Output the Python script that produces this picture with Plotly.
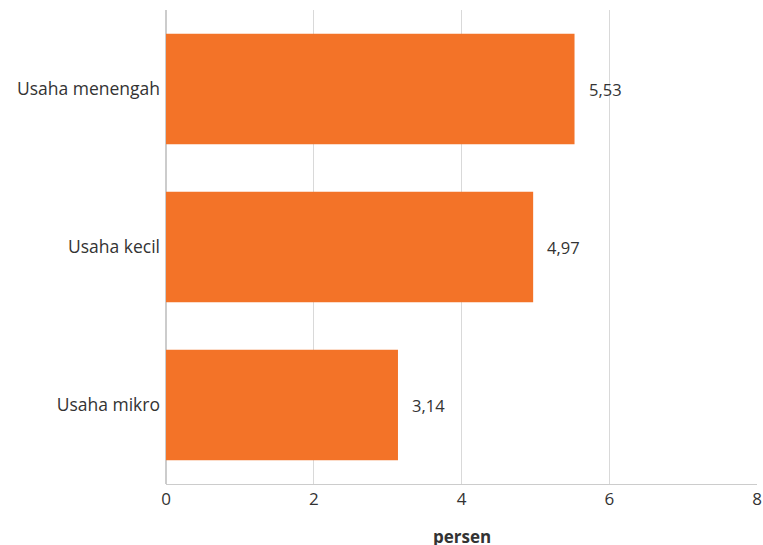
import plotly.graph_objects as go

categories = ["Usaha mikro", "Usaha kecil", "Usaha menengah"]
values = [3.14, 4.97, 5.53]
tick_vals = [0, 2, 4, 6, 8]
x_title = "persen"

BAR_COLOR = "#F37328"
TEXT_COLOR = "#333333"
FONT = "Open Sans"

fig = go.Figure(
    go.Bar(
        y=categories,
        x=values,
        orientation="h",
        marker=dict(color=BAR_COLOR, line=dict(width=0)),
        hoverinfo="skip",
    )
)

# value labels placed just past the end of each bar
for cat, val in zip(categories, values):
    fig.add_annotation(
        x=val,
        y=cat,
        xref="x",
        yref="y",
        text=f"{val:.2f}".replace(".", ","),
        showarrow=False,
        xanchor="left",
        yanchor="middle",
        xshift=12,
        font=dict(family=FONT, size=16.5, color=TEXT_COLOR),
    )

# x-axis title sits low, near the bottom edge
fig.add_annotation(
    x=0.5,
    y=0,
    xref="paper",
    yref="paper",
    text=f"<b>{x_title}</b>",
    showarrow=False,
    xanchor="center",
    yanchor="middle",
    yshift=-52,
    font=dict(family=FONT, size=17, color=TEXT_COLOR),
)

fig.update_layout(
    width=763,
    height=545,
    margin=dict(l=166, r=6, t=10, b=61, autoexpand=False),
    paper_bgcolor="white",
    plot_bgcolor="white",
    bargap=0.3,
    showlegend=False,
    font=dict(family=FONT, size=16, color=TEXT_COLOR),
    xaxis=dict(
        range=[0, 8],
        tickvals=tick_vals,
        showgrid=True,
        gridcolor="#D9D9D9",
        gridwidth=1,
        zeroline=True,
        zerolinecolor="#CCCCCC",
        showline=True,
        linecolor="#CCCCCC",
        ticks="",
        automargin=False,
        tickfont=dict(family=FONT, size=17, color=TEXT_COLOR),
        fixedrange=True,
    ),
    yaxis=dict(
        showgrid=False,
        showline=False,
        ticks="",
        automargin=False,
        ticklabelstandoff=5,
        tickfont=dict(family=FONT, size=17.5, color=TEXT_COLOR),
        fixedrange=True,
    ),
)

fig.write_html("out.html")
